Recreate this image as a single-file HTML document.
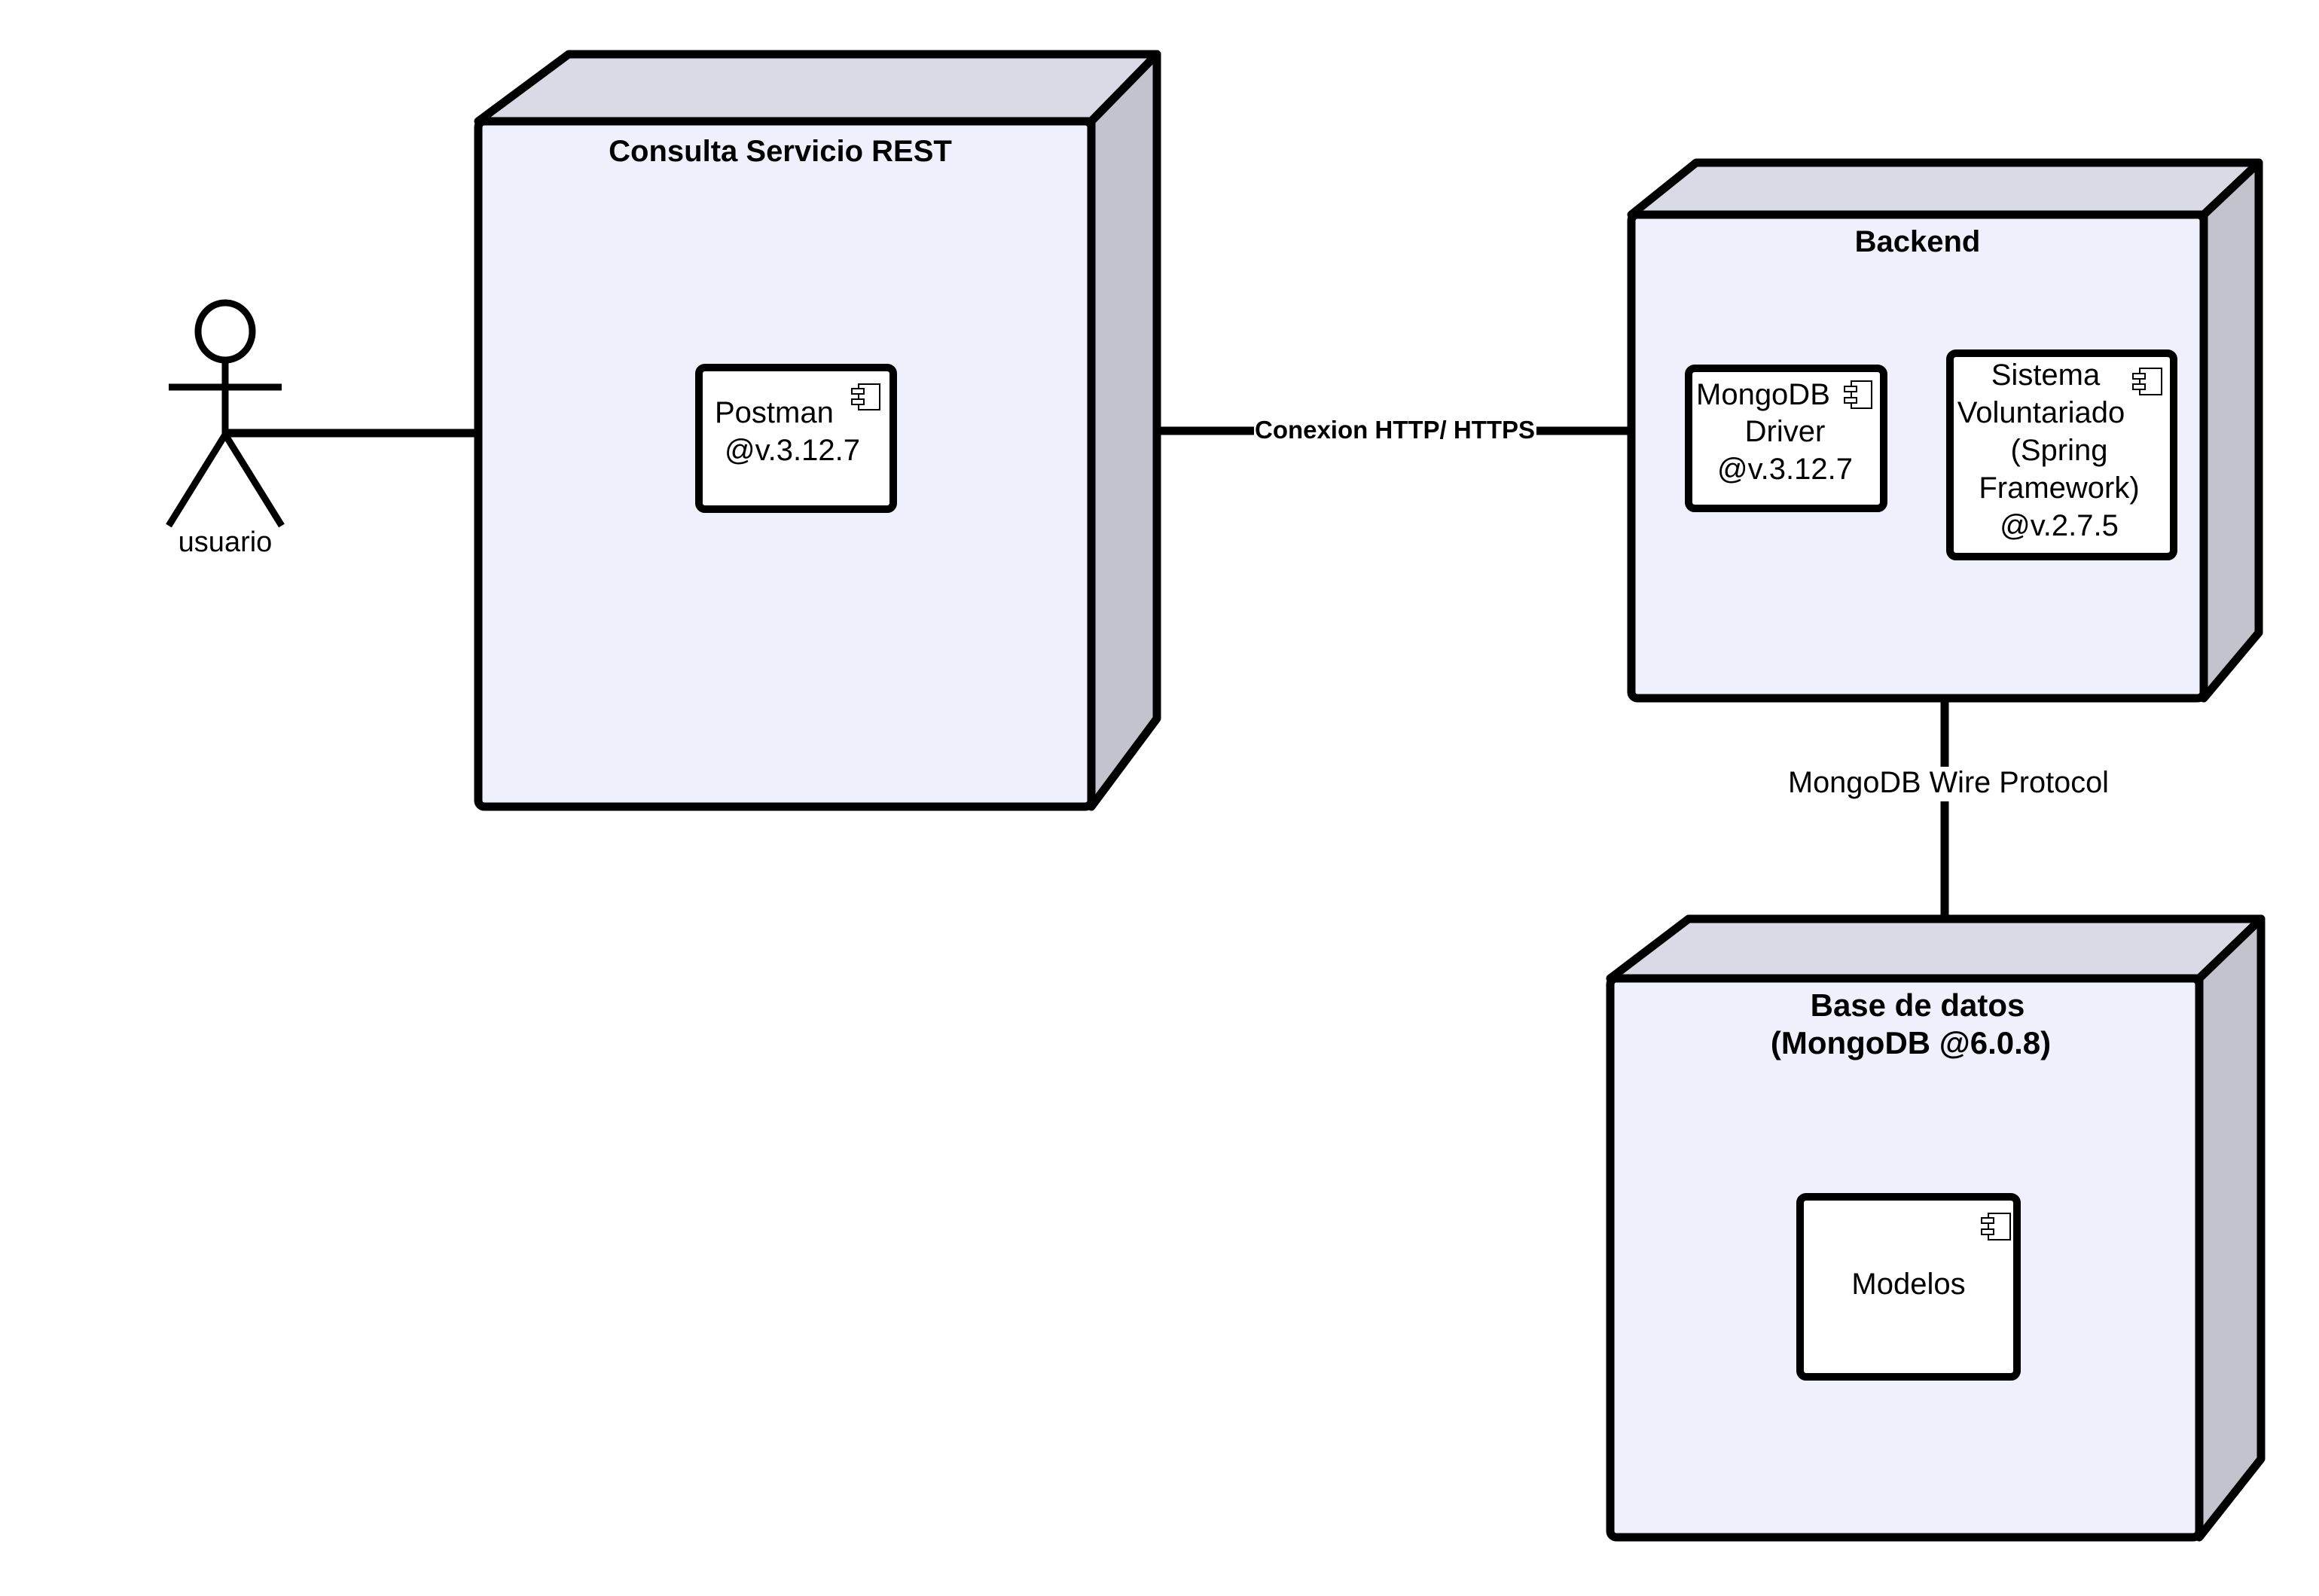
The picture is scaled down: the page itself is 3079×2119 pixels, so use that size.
<!DOCTYPE html>
<html><head><meta charset="utf-8"><style>
html,body{margin:0;padding:0;background:#fff;}
svg{display:block;}
text{font-family:"Liberation Sans",sans-serif;fill:#000;}
</style></head><body>
<svg width="3079" height="2119" viewBox="0 0 3079 2119" xmlns="http://www.w3.org/2000/svg">
<g stroke="#000" stroke-width="11" stroke-linejoin="round" stroke-linecap="round">
<line x1="299" y1="575" x2="635" y2="575" stroke-linecap="butt"/>
<line x1="1536" y1="572" x2="2166" y2="572" stroke-linecap="butt"/>
<line x1="2582" y1="927" x2="2582" y2="1222" stroke-linecap="butt"/>

<polygon points="635,161 755,72 1536,72 1449,161" fill="#dadae6"/>
<polygon points="1449,161 1536,72 1536,954 1449,1071" fill="#c3c3cd"/>
<rect x="635" y="161" width="814" height="910" rx="8" fill="#f0f0fc"/>

<polygon points="2166,285 2252,216 2999,216 2926,285" fill="#dadae6"/>
<polygon points="2926,285 2999,216 2999,840 2926,927" fill="#c3c3cd"/>
<rect x="2166" y="285" width="760" height="642" rx="8" fill="#f0f0fc"/>

<polygon points="2138,1299 2242,1220 3002,1220 2920,1299" fill="#dadae6"/>
<polygon points="2920,1299 3002,1220 3002,1937 2920,2041" fill="#c3c3cd"/>
<rect x="2138" y="1299" width="782" height="742" rx="8" fill="#f0f0fc"/>

<rect x="928" y="488" width="258" height="188" rx="8" fill="#fff" stroke-width="10"/>
<rect x="2242" y="489" width="259" height="186" rx="8" fill="#fff" stroke-width="10"/>
<rect x="2589" y="469" width="297" height="270" rx="8" fill="#fff" stroke-width="10"/>
<rect x="2390" y="1589" width="288" height="239" rx="8" fill="#fff" stroke-width="10"/>

<ellipse cx="299" cy="440" rx="36" ry="38" fill="#fff" stroke-width="9"/>
<line x1="299" y1="478" x2="299" y2="577" stroke-width="9" stroke-linecap="butt"/>
<line x1="224" y1="514" x2="374" y2="514" stroke-width="9" stroke-linecap="butt"/>
<polyline points="224,698 299,577 374,698" fill="none" stroke-width="9" stroke-linejoin="miter" stroke-linecap="butt"/>
</g>

<g fill="#fff" stroke="#000" stroke-width="2">
<rect x="1140" y="510" width="28" height="34"/><rect x="1131" y="516" width="16" height="7"/><rect x="1131" y="530" width="16" height="7"/>
<rect x="2458" y="506" width="27" height="36"/><rect x="2449" y="513" width="16" height="7"/><rect x="2449" y="528" width="16" height="7"/>
<rect x="2841" y="489" width="29" height="35"/><rect x="2832" y="496" width="16" height="7"/><rect x="2832" y="510" width="16" height="7"/>
<rect x="2640" y="1611" width="29" height="35"/><rect x="2631" y="1617" width="16" height="7"/><rect x="2631" y="1632" width="16" height="7"/>
</g>

<rect x="1665" y="550" width="375" height="44" fill="#fff"/>
<text x="1852" y="582" font-size="33" font-weight="bold" text-anchor="middle" textLength="372" lengthAdjust="spacingAndGlyphs">Conexion HTTP/ HTTPS</text>
<rect x="2372" y="1018" width="430" height="46" fill="#fff"/>
<text x="2587" y="1052" font-size="40" text-anchor="middle" textLength="426" lengthAdjust="spacingAndGlyphs">MongoDB Wire Protocol</text>

<text x="1036" y="214" font-size="40" font-weight="bold" text-anchor="middle">Consulta Servicio REST</text>
<text x="2546" y="334" font-size="40" font-weight="bold" text-anchor="middle">Backend</text>
<text x="2546" y="1349" font-size="42" font-weight="bold" text-anchor="middle">Base de datos</text>
<text x="2537" y="1399" font-size="42" font-weight="bold" text-anchor="middle">(MongoDB @6.0.8)</text>

<text x="949" y="561" font-size="40">Postman</text>
<text x="1052" y="611" font-size="40" text-anchor="middle">@v.3.12.7</text>

<text x="2252" y="537" font-size="40">MongoDB</text>
<text x="2370" y="586" font-size="40" text-anchor="middle">Driver</text>
<text x="2370" y="636" font-size="40" text-anchor="middle">@v.3.12.7</text>

<text x="2716" y="511" font-size="40" text-anchor="middle">Sistema</text>
<text x="2710" y="561" font-size="40" text-anchor="middle">Voluntariado</text>
<text x="2734" y="611" font-size="40" text-anchor="middle">(Spring</text>
<text x="2734" y="661" font-size="40" text-anchor="middle">Framework)</text>
<text x="2734" y="711" font-size="40" text-anchor="middle">@v.2.7.5</text>

<text x="2534" y="1718" font-size="40" text-anchor="middle">Modelos</text>

<text x="299" y="732" font-size="38" text-anchor="middle">usuario</text>
</svg>
</body></html>
